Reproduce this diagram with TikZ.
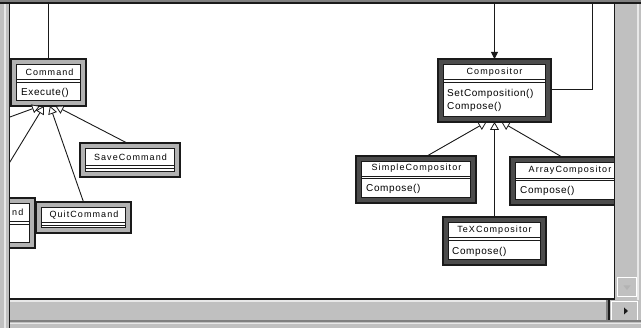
\documentclass[tikz,border=0pt]{standalone}
\usepackage{fontspec}
\setmainfont{Liberation Sans}
\newfontfamily\namefont[LetterSpace=12]{Liberation Sans}
\newfontfamily\opfont[LetterSpace=6]{Liberation Sans}
\usetikzlibrary{arrows.meta,calc}

\definecolor{chrome}{HTML}{C0C0C0}
\definecolor{chromelight}{HTML}{E8E8E8}
\definecolor{chromedark}{HTML}{808080}
\definecolor{bandlight}{HTML}{B2B2B2}
\definecolor{banddark}{HTML}{4C4C4C}
\definecolor{ink}{HTML}{1A1A1A}

% Class frame: outer border, coloured band, white inner panel
% #1 name, #2 x1, #3 y1, #4 x2, #5 y2, #6 band colour
\newcommand\umlframe[6]{%
  \pgfmathsetmacro\umlw{#4-#2}%
  \pgfmathsetmacro\umlh{#5-#3}%
  \node[classframe, fill=#6, minimum width=\umlw pt, minimum height=\umlh pt]
    (#1) at ({(#2+#4)/2},{(#3+#5)/2}) {};
  \draw[classinner] ($(#1.north west)+(5.5,5.5)$) rectangle ($(#1.south east)+(-5.5,-5.5)$);
}
% Double separator between name and operation compartments
% #1 x1, #2 x2, #3 y of first line
\newcommand\umlsep[3]{%
  \draw[sepline] (#1,#3) -- (#2,#3);
  \draw[sepline] (#1,#3+2.8) -- (#2,#3+2.8);
}

\begin{document}
\begin{tikzpicture}[x=1pt,y=-1pt,
  classframe/.style={draw=ink, line width=1.3pt, rectangle, inner sep=0pt, outer sep=0pt},
  classinner/.style={draw=ink, line width=1.1pt, fill=white},
  sepline/.style={draw=ink, line width=0.9pt},
  classname/.style={inner sep=0pt, font=\namefont\fontsize{9}{10}\selectfont},
  classop/.style={inner sep=0pt, anchor=west, font=\opfont\fontsize{10}{11}\selectfont},
  link/.style={draw=ink, line width=0.9pt},
  inherit/.style={link, -{Triangle[length=8pt, width=9pt, fill=white, line width=0.8pt]}},
  assoc/.style={link, -{Triangle[length=7pt, width=7pt]}},
]
\useasboundingbox (0,0) rectangle (641,328);

% window background and drawing area
\fill[chrome] (0,0) rectangle (641,328);
\fill[chromelight] (4,0) rectangle (5.5,328);
\fill[white] (10,4) rectangle (614,299);

\begin{scope}
\clip (10,4) rectangle (614,299);

% free ends of connectors leaving the visible area
\coordinate (cmdtop) at (48.5,0);
\coordinate (comptop) at (494.5,0);
\coordinate (compback) at (592,0);
\coordinate (offleftA) at (-20,128);
\coordinate (offleftB) at (-12,198);

% ---- Command hierarchy ----
\umlframe{command}{11}{59}{86}{106}{bandlight}
\umlsep{17}{81}{79.5}
\node[classname] (commandname) at (49.5,72) {Command};
\node[classop] (commandop) at (21,92.5) {Execute()};

\umlframe{save}{80}{143}{180}{177}{bandlight}
\umlsep{86}{175}{165.5}
\node[classname] (savename) at (130.5,157.5) {SaveCommand};

\umlframe{quit}{36}{202}{131}{233}{bandlight}
\umlsep{42}{126}{222.5}
\node[classname] (quitname) at (84,215.5) {QuitCommand};

\umlframe{leftcmd}{-60}{198}{35}{248}{bandlight}
\umlsep{-55}{30}{221.5}
\node[classname, anchor=east] (leftcmdname) at (23.5,212) {nd};

\draw[link] (cmdtop) -- (command.north);
\draw[inherit] (offleftA) -- ([xshift=-8.5pt]command.south);
\draw[inherit] (offleftB) -- ([xshift=-4.5pt]command.south);
\draw[inherit] (quit.north) -- ([xshift=1.5pt]command.south);
\draw[inherit] ([xshift=-3pt]save.north) -- ([xshift=7pt]command.south);

% ---- Compositor hierarchy ----
\umlframe{compositor}{438}{59}{551}{122}{banddark}
\umlsep{444}{545}{79.5}
\node[classname] (compositorname) at (494.5,72.5) {Compositor};
\node[classop] (setcomp) at (447,94) {SetComposition()};
\node[classop] (compcompose) at (447,106.5) {Compose()};

\umlframe{simple}{356}{156}{476}{203}{banddark}
\umlsep{362}{471}{176}
\node[classname] (simplename) at (416.5,168.5) {SimpleCompositor};
\node[classop] (simpleop) at (366,188.5) {Compose()};

\umlframe{array}{510}{157}{630}{205}{banddark}
\umlsep{516}{625}{178}
\node[classname] (arrayname) at (570,170.5) {ArrayCompositor};
\node[classop] (arrayop) at (520,191) {Compose()};

\umlframe{tex}{443}{217}{546}{265}{banddark}
\umlsep{449}{540}{237.5}
\node[classname] (texname) at (494.5,230.5) {TeXCompositor};
\node[classop] (texop) at (452,251.5) {Compose()};

\draw[assoc] (comptop) -- (compositor.north);
\draw[link] ([yshift=1.5pt]compositor.east) -| (compback);
\draw[inherit] ([xshift=11pt]simple.north) -- ([xshift=-8pt]compositor.south);
\draw[inherit] (tex.north) -- (compositor.south);
\draw[inherit] ([xshift=-8pt]array.north) -- ([xshift=7pt]compositor.south);
\end{scope}

% ---- window frame ----
\fill[chromedark] (0,0) rectangle (641,2.5);
\fill[ink] (0,2.5) rectangle (641,4);
\fill[ink] (8.5,2.5) rectangle (10,328);
\fill[ink] (613.5,2.5) rectangle (615,300);
\fill[ink] (8.5,298.5) rectangle (615,300);

% vertical scroll bar
\fill[chromelight] (637,4) rectangle (638.5,300);
\node[draw=white, line width=1pt, fill=chrome, minimum width=19pt, minimum height=19pt,
      inner sep=0pt, outer sep=0pt] (downbtn) at (627,287) {};
\fill[chromedark!60] (623.5,285.5) -- (630.5,285.5) -- (627,290) -- cycle;

% horizontal scroll bar
\fill[chromelight] (10,300.5) rectangle (607,302);
\fill[chromedark] (606,300) rectangle (608,321);
\fill[ink] (608,300) rectangle (609.5,322);
\node[draw=white, line width=1pt, fill=chrome, minimum width=26pt, minimum height=19pt,
      inner sep=0pt, outer sep=0pt] (rightbtn) at (624,311) {};
\fill[ink] (624,307.5) -- (628,311) -- (624,314.5) -- cycle;
\fill[chromedark] (10,320.5) rectangle (641,322);
\fill[chromelight] (10,323) rectangle (641,324.5);
\end{tikzpicture}
\end{document}
